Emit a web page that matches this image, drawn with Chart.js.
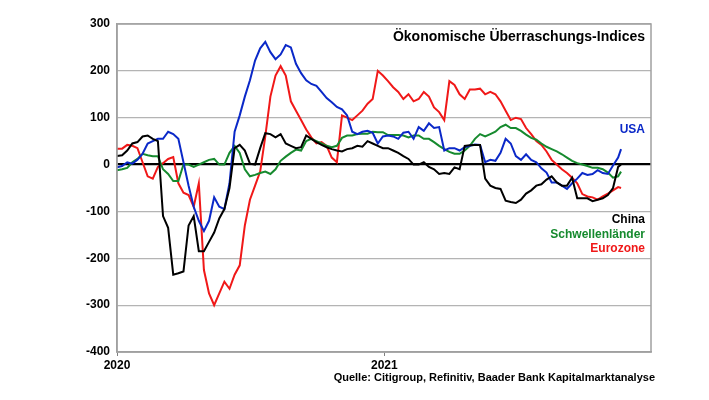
<!DOCTYPE html>
<html>
<head>
<meta charset="utf-8">
<script src="https://cdn.jsdelivr.net/npm/chart.js@4/dist/chart.umd.min.js"></script>
<style>
  html, body { margin:0; padding:0; background:#fff; }
  #wrap { width:709px; height:400px; }
</style>
</head>
<body>
<div id="wrap"><canvas id="c" width="709" height="400"></canvas></div>
<script>
// data: weekly readings, x = days since 2020-01-01
const weeks = [];
for (let w = 0; w <= 98; w++) weeks.push(w * 7);
const days = weeks.concat([690]);

const usa = [-6,-3,5,2,10,23,45,50,55,55,70,65,55,5,-45,-90,-120,-142,-120,-70,-90,-95,-40,70,105,145,180,222,
  248,262,240,225,235,255,250,215,195,180,172,168,155,142,133,123,118,105,70,65,70,72,68,45,60,
  62,60,55,68,70,55,80,72,88,78,80,30,35,35,30,37,40,43,42,5,10,8,25,55,45,
  18,10,22,10,5,-8,-17,-38,-38,-45,-52,-40,-30,-18,-22,-20,-12,-18,-20,-2,15,
  33];
const eurozone = [34,34,42,40,35,5,-25,-30,-5,3,12,16,-40,-60,-65,-90,-40,-225,-275,-300,-275,-250,-265,-235,-215,-130,-75,-45,
  -15,60,145,190,210,190,135,115,95,75,58,45,48,40,15,5,105,100,95,105,115,130,140,200,190,
  178,165,155,140,150,135,140,155,145,122,112,95,178,170,150,140,160,160,162,150,155,150,135,115,95,
  100,97,78,65,50,42,28,10,0,-10,-18,-28,-40,-63,-68,-70,-75,-68,-62,-55,-48,
  -50];
const emerging = [-12,-10,-7,5,12,23,20,18,18,-10,-20,-35,-35,0,0,-5,0,5,10,12,0,0,25,40,25,-10,-25,-22,
  -18,-15,-20,-10,8,17,25,32,30,50,55,50,45,40,37,40,57,62,62,65,66,66,70,69,69,
  63,63,63,62,58,62,62,55,55,48,40,33,27,23,23,30,40,55,65,60,65,70,80,85,78,
  78,72,64,57,53,45,38,33,28,22,15,8,3,0,-3,-7,-7,-10,-17,-28,-25,
  -15];
const china = [18,20,30,45,48,60,62,55,50,-110,-135,-235,-232,-228,-130,-110,-185,-185,-165,-145,-115,-95,-50,35,42,30,2,0,
  35,67,65,58,65,45,40,35,37,62,55,48,42,37,33,30,28,33,35,40,38,50,45,40,35,
  35,30,25,18,12,0,0,5,-5,-10,-20,-18,-20,-6,-10,40,41,42,42,-30,-45,-50,-52,-77,-80,
  -82,-75,-62,-55,-45,-42,-32,-25,-38,-45,-45,-28,-72,-72,-72,-78,-75,-72,-65,-50,-5,
  0];

const yearTicks = [0, 366];
const yearLabels = ["2020", "2021"];

const FONT = "Arial, 'Liberation Sans', sans-serif";
const BLUE = "#0a28c8", RED = "#f01818", GREEN = "#168a2e", BLACK = "#000000";

function pts(vals){ return vals.map((v,i)=>({x:days[i], y:v})); }

// texts drawn on top
const textPlugin = {
  id: "texts",
  afterDraw(chart){
    const ctx = chart.ctx, a = chart.chartArea;
    ctx.save();
    ctx.strokeStyle = "#a0a0a0";
    ctx.lineWidth = 1.5;
    ctx.strokeRect(a.left, a.top, a.right - a.left, a.bottom - a.top);
    ctx.textAlign = "right";
    ctx.textBaseline = "middle";
    ctx.font = "bold 14px " + FONT;
    ctx.fillStyle = "#000";
    ctx.fillText("Ökonomische Überraschungs-Indices", 645, 37);
    ctx.font = "bold 12px " + FONT;
    ctx.fillStyle = BLUE;  ctx.fillText("USA", 645, 130);
    ctx.fillStyle = BLACK; ctx.fillText("China", 645, 220);
    ctx.fillStyle = GREEN; ctx.fillText("Schwellenländer", 645, 235);
    ctx.fillStyle = RED;   ctx.fillText("Eurozone", 645, 249);
    ctx.font = "bold 11px " + FONT;
    ctx.fillStyle = "#000";
    ctx.fillText("Quelle: Citigroup, Refinitiv, Baader Bank Kapitalmarktanalyse", 655, 378);
    ctx.restore();
  }
};

const ds = (label, vals, color) => ({
  label, data: pts(vals), borderColor: color, borderWidth: 2,
  pointRadius: 0, tension: 0, fill: false
});

new Chart(document.getElementById("c"), {
  type: "line",
  data: {
    datasets: [
      ds("China", china, BLACK),
      ds("USA", usa, BLUE),
      ds("Schwellenländer", emerging, GREEN),
      ds("Eurozone", eurozone, RED)
    ]
  },
  options: {
    responsive: false,
    animation: false,
    layout: { padding: { left: 0, right: 58, top: 24, bottom: 0 } },
    plugins: { legend: { display: false }, tooltip: { enabled: false } },
    scales: {
      x: {
        type: "linear", min: 0, max: 731,
        afterBuildTicks: s => { s.ticks = yearTicks.map(v => ({ value: v })); },
        afterFit: s => { s.height = 48; },
        ticks: {
          callback: v => yearLabels[yearTicks.indexOf(v)] ?? "",
          font: { family: FONT, size: 12, weight: "bold" }, color: "#000",
          maxRotation: 0, autoSkip: false, padding: 2
        },
        grid: { drawOnChartArea: false, drawTicks: true, tickLength: 4, color: "#808080" },
        border: { display: true, color: "#a0a0a0", width: 1.5 }
      },
      y: {
        min: -400, max: 300,
        afterFit: s => { s.width = 117; },
        ticks: {
          stepSize: 100,
          font: { family: FONT, size: 12, weight: "bold" }, color: "#000",
          padding: 7
        },
        grid: {
          drawTicks: false,
          color: c => c.tick && c.tick.value === 0 ? "#000" : "#b4b4b4",
          lineWidth: c => c.tick && c.tick.value === 0 ? 2.2 : 1.2
        },
        border: { display: true, color: "#a0a0a0", width: 1.5 }
      }
    }
  },
  plugins: [textPlugin]
});
</script>
</body>
</html>
